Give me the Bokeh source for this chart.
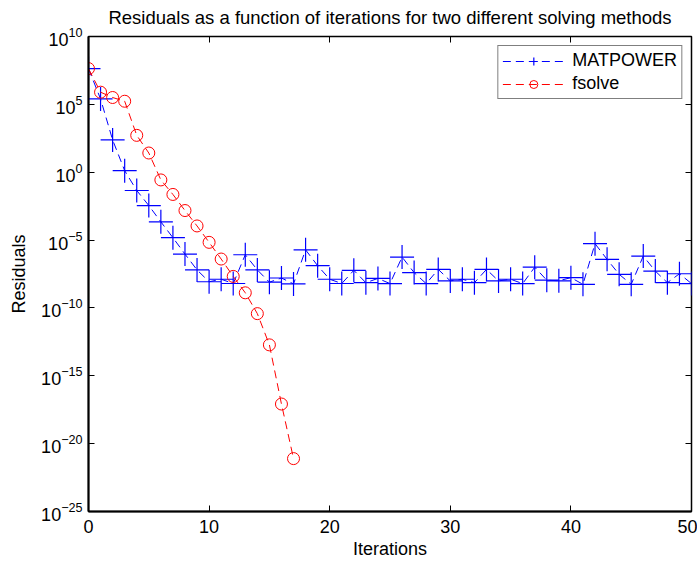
from bokeh.plotting import figure
from bokeh.models import (LogAxis, LinearAxis, FixedTicker, Legend, LegendItem,
                          LogTickFormatter, Range1d, CustomJSTickFormatter)
from bokeh.embed import file_html
from bokeh.resources import INLINE

iterations_matpower = list(range(51))
residuals_matpower = [4.3e7, 2.5e5, 2.4e2, 1.3, 4.5e-2, 3.5e-3, 2.2e-4, 1.5e-5, 9.3e-7, 6.3e-8,
                      8.5e-9, 1.3e-8, 6.3e-9, 8.3e-7, 6.3e-8, 7.9e-9, 1.6e-8, 5.9e-9, 1.9e-6, 1.3e-7,
                      1.3e-8, 6.3e-9, 5.9e-8, 7.2e-9, 1.5e-8, 6.2e-9, 5.6e-7, 4.0e-8, 6.2e-9, 6.9e-8,
                      9.8e-9, 1.3e-8, 7.2e-9, 6.9e-8, 9.8e-9, 1.3e-8, 6.2e-9, 1.0e-7, 1.1e-8, 1.0e-8,
                      1.7e-8, 5.5e-9, 5.4e-6, 3.8e-7, 3.0e-8, 5.5e-9, 6.6e-7, 5.2e-8, 7.2e-9, 3.3e-8,
                      6.2e-9]
iterations_fsolve = list(range(18))
residuals_fsolve = [4.3e7, 7.9e5, 3.2e5, 1.7e5, 5.2e2, 26, 0.27, 2.3e-2, 1.5e-3, 1.1e-4,
                    6.8e-6, 4.0e-7, 2.1e-8, 1.3e-9, 3.8e-11, 1.9e-13, 8.3e-18, 7.9e-22]
x_ticks = [0, 10, 20, 30, 40, 50]
y_ticks = [1e-25, 1e-20, 1e-15, 1e-10, 1e-5, 1e0, 1e5, 1e10]

FONT = "Liberation Sans"

p = figure(width=697, height=562, output_backend="svg", toolbar_location=None,
           y_axis_type="log", x_range=Range1d(0, 50), y_range=Range1d(1e-25, 1e10),
           title="Residuals as a function of iterations for two different solving methods",
           min_border_left=88, min_border_right=6, min_border_top=35, min_border_bottom=51)
p.title.align = "center"
p.title.text_font = FONT
p.title.text_font_size = "18.5px"
p.title.text_font_style = "normal"
p.title.text_color = "black"
p.title.offset = 0
p.title.standoff = 13
p.title.vertical_align = "top"
p.grid.visible = False
p.outline_line_color = "black"
p.outline_line_width = 1.5
p.background_fill_color = "white"
p.border_fill_color = "white"

for ax in [p.xaxis[0], p.yaxis[0]]:
    ax.major_tick_in = 6
    ax.major_tick_out = 0
    ax.minor_tick_in = 0
    ax.minor_tick_out = 0
    ax.axis_line_color = "black"
    ax.axis_line_width = 2
    ax.major_label_text_font = FONT
    ax.major_label_text_font_size = "18px"
    ax.major_label_text_color = "black"
    ax.axis_label_text_font = FONT
    ax.axis_label_text_font_size = "18px"
    ax.axis_label_text_font_style = "normal"
    ax.axis_label_text_color = "black"

p.xaxis[0].ticker = FixedTicker(ticks=x_ticks)
p.yaxis[0].ticker = FixedTicker(ticks=y_ticks)
p.yaxis[0].formatter = LogTickFormatter()
p.xaxis.axis_label = "Iterations"
p.yaxis.axis_label = "Residuals"
p.xaxis.axis_label_standoff = 3
p.yaxis.axis_label_standoff = 9
p.xaxis.major_label_standoff = 8
p.yaxis.major_label_standoff = 6

blank = CustomJSTickFormatter(code="return ''")
top = LinearAxis(ticker=FixedTicker(ticks=x_ticks), formatter=blank, major_tick_in=6,
                 major_tick_out=0, minor_tick_in=0, minor_tick_out=0,
                 major_label_standoff=0, axis_line_color=None)
right = LogAxis(ticker=FixedTicker(ticks=y_ticks), formatter=blank, major_tick_in=6,
                major_tick_out=0, minor_tick_in=0, minor_tick_out=0,
                major_label_standoff=0, axis_line_color=None)
p.add_layout(top, "above")
p.add_layout(right, "right")

l1 = p.line(iterations_matpower, residuals_matpower, line_color="#0000ff", line_dash="8 5", line_width=1)
s1 = p.scatter(iterations_matpower, residuals_matpower, marker="cross", size=24,
               line_color="#0000ff", line_width=1.2)
l2 = p.line(iterations_fsolve, residuals_fsolve, line_color="#ff0000", line_dash="8 5", line_width=1)
s2 = p.scatter(iterations_fsolve, residuals_fsolve, marker="circle", size=12,
               line_color="#ff0000", fill_color=None, line_width=1)

legend = Legend(items=[LegendItem(label="MATPOWER", renderers=[l1, s1]),
                       LegendItem(label="fsolve", renderers=[l2, s2])],
                location="top_right", glyph_width=62, glyph_height=20, spacing=2,
                padding=4, margin=9, label_text_font=FONT, label_text_font_size="18px",
                label_height=20, label_text_color="black",
                border_line_color="black", border_line_width=1.5, label_standoff=8)
p.add_layout(legend, "center")

open("out.html", "w").write(file_html(p, INLINE))
